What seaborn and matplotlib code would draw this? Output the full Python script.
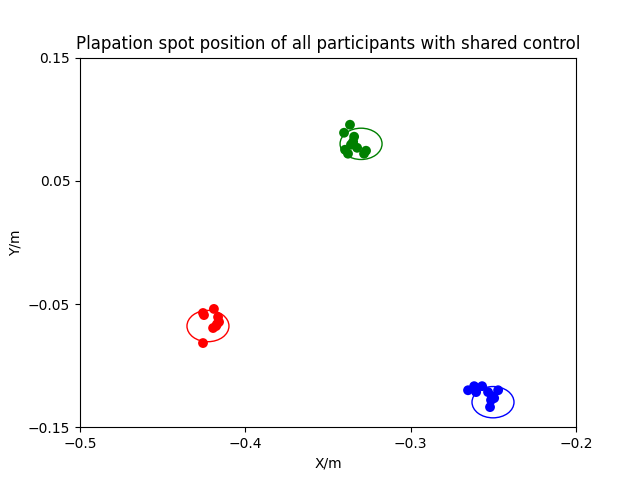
import numpy as np
import pandas as pd
import matplotlib
matplotlib.use('Agg')
import matplotlib.pyplot as plt
from matplotlib.patches import Ellipse
import seaborn as sns

green_x = [-0.3367, -0.3403, -0.3342, -0.3348, -0.3361, -0.3324, -0.3397, -0.3379, -0.3270, -0.3282]
green_y = [0.0955, 0.0890, 0.0858, 0.0817, 0.0793, 0.0768, 0.0752, 0.0720, 0.0744, 0.0720]
red_x = [-0.4190, -0.4256, -0.4250, -0.4165, -0.4159, -0.4177, -0.4195, -0.4171, -0.4256]
red_y = [-0.0540, -0.0573, -0.0590, -0.0606, -0.0646, -0.0679, -0.0695, -0.0663, -0.0817]
blue_x = [-0.2653, -0.2616, -0.2568, -0.2604, -0.2532, -0.2508, -0.2514, -0.2495, -0.2471, -0.2520]
blue_y = [-0.1200, -0.1167, -0.1167, -0.1215, -0.1215, -0.1248, -0.1280, -0.1264, -0.1200, -0.1337]

# circle centres and sizes per group
centres = {'green': (-0.3300, 0.0800), 'red': (-0.4226, -0.0679), 'blue': (-0.2502, -0.1297)}
ell_w, ell_h = 0.0254, 0.0254

df = pd.concat([
    pd.DataFrame({'x': green_x, 'y': green_y, 'c': 'green'}),
    pd.DataFrame({'x': red_x, 'y': red_y, 'c': 'red'}),
    pd.DataFrame({'x': blue_x, 'y': blue_y, 'c': 'blue'}),
])

fig, ax = plt.subplots(figsize=(6.4, 4.8), dpi=100)
sns.scatterplot(data=df, x='x', y='y', hue='c', palette={'green': 'green', 'red': 'red', 'blue': 'blue'},
                s=50, linewidth=0, legend=False, ax=ax)
for c, (cx, cy) in centres.items():
    ax.add_patch(Ellipse((cx, cy), ell_w, ell_h, fill=False, edgecolor=c, linewidth=1))

ax.set_xlim(-0.5, -0.2)
ax.set_ylim(-0.15, 0.15)
ax.set_xticks([-0.5, -0.4, -0.3, -0.2])
ax.set_yticks([-0.15, -0.05, 0.05, 0.15])
ax.set_xlabel('X/m')
ax.set_ylabel('Y/m')
ax.set_title('Plapation spot position of all participants with shared control')
fig.savefig('out.png')
